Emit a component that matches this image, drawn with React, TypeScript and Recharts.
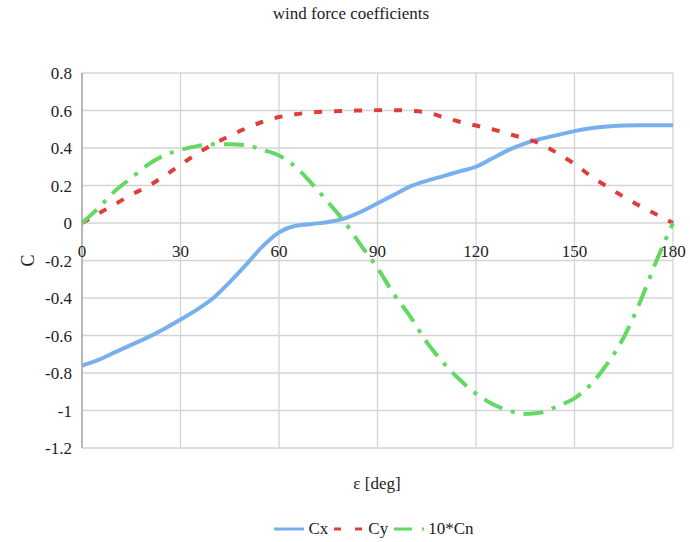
import { LineChart, Line, XAxis, YAxis, CartesianGrid } from 'recharts';

const angles = [
  0, 5, 10, 15, 20, 25, 30, 35, 40, 45, 50, 55, 60, 65, 70, 75, 80, 85, 90,
  95, 100, 105, 110, 115, 120, 125, 130, 135, 140, 145, 150, 155, 160, 165, 170, 175, 180,
];

const cx = [
  -0.76, -0.73, -0.69, -0.65, -0.61, -0.565, -0.515, -0.462, -0.4, -0.315, -0.222, -0.125, -0.05,
  -0.015, -0.005, 0.005, 0.025, 0.06, 0.105, 0.15, 0.195, 0.225, 0.25, 0.275, 0.3, 0.345, 0.39,
  0.425, 0.45, 0.47, 0.49, 0.505, 0.515, 0.52, 0.522, 0.522, 0.522,
];

const cy = [
  0, 0.05, 0.1, 0.15, 0.195, 0.25, 0.31, 0.37, 0.42, 0.465, 0.505, 0.54, 0.565, 0.58, 0.59,
  0.595, 0.598, 0.6, 0.602, 0.602, 0.598, 0.59, 0.565, 0.54, 0.52, 0.5, 0.475, 0.45, 0.42,
  0.37, 0.315, 0.25, 0.193, 0.14, 0.09, 0.045, 0,
];

const cn10 = [
  0, 0.08, 0.17, 0.24, 0.31, 0.36, 0.39, 0.41, 0.42, 0.42, 0.415, 0.39, 0.36, 0.3, 0.21, 0.11,
  0.005, -0.12, -0.24, -0.38, -0.5, -0.635, -0.745, -0.835, -0.91, -0.965, -1.0, -1.018, -1.01,
  -0.975, -0.935, -0.86, -0.75, -0.61, -0.42, -0.2, 0,
];

const xTicks = [0, 30, 60, 90, 120, 150, 180];
const yTicks = [-1.2, -1, -0.8, -0.6, -0.4, -0.2, 0, 0.2, 0.4, 0.6, 0.8];

const data = angles.map((a, i) => ({ eps: a, cx: cx[i], cy: cy[i], cn: cn10[i] }));

const W = 690;
const H = 542;
const TOP = 73;
const Y_AXIS_W = 82;
const X_AXIS_H = 30;
const BOTTOM = 64;
const PLOT_H = H - TOP - BOTTOM - X_AXIS_H;
const Y_MIN = -1.2;
const Y_MAX = 0.8;
const ZERO_Y = TOP + (PLOT_H * Y_MAX) / (Y_MAX - Y_MIN);
const MID_Y = TOP + PLOT_H / 2;

const FONT = '"Liberation Serif", "Times New Roman", serif';
const BLUE = '#78b0ee';
const RED = '#e03c3c';
const GREEN = '#62d962';

function XTick(props: any) {
  const { x, payload } = props;
  return (
    <text x={x} y={ZERO_Y + 34} textAnchor="middle" fontSize={17} fill="#222">
      {payload.value}
    </text>
  );
}

function LegendItem({ color, dash, label }: { color: string; dash?: string; label: string }) {
  return (
    <span style={{ display: 'inline-flex', alignItems: 'center', marginRight: 6 }}>
      <svg width={30} height={6} style={{ marginRight: 4 }}>
        <line x1={0} y1={3} x2={30} y2={3} stroke={color} strokeWidth={3} strokeDasharray={dash} />
      </svg>
      {label}
    </span>
  );
}

export default function App() {
  return (
    <div style={{ position: 'absolute', left: 0, top: 0, width: W, height: H, background: '#fff', fontFamily: FONT, color: '#222' }}>
      <div style={{ position: 'absolute', top: 4, left: 0, width: 702, textAlign: 'center', fontSize: 17 }}>
        wind force coefficients
      </div>
      <LineChart
        width={W}
        height={H}
        data={data}
        margin={{ top: TOP, right: 17, bottom: BOTTOM, left: 0 }}
        style={{ fontFamily: FONT }}
      >
        <CartesianGrid stroke="#d4d4d4" strokeWidth={1.3} />
        <XAxis
          dataKey="eps"
          type="number"
          domain={[0, 180]}
          ticks={xTicks}
          height={X_AXIS_H}
          axisLine={false}
          tickLine={false}
          tick={<XTick />}
          interval={0}
        />
        <YAxis
          type="number"
          domain={[Y_MIN, Y_MAX]}
          ticks={yTicks}
          width={Y_AXIS_W}
          axisLine={{ stroke: '#aaaaaa', strokeWidth: 1.5 }}
          tickLine={false}
          tickMargin={4}
          interval={0}
          tickFormatter={(v: number) => String(Math.round(v * 10) / 10)}
          tick={{ fontSize: 17, fill: '#222' }}
          label={{
            content: () => (
              <text x={28} y={MID_Y} transform={`rotate(-90 28 ${MID_Y})`} textAnchor="middle" dominantBaseline="central" fontSize={18} fill="#222">
                C
              </text>
            ),
          }}
        />
        <Line type="monotone" dataKey="cx" stroke={BLUE} strokeWidth={4} dot={false} isAnimationActive={false} />
        <Line type="monotone" dataKey="cy" stroke={RED} strokeWidth={4} strokeDasharray="8 12" dot={false} isAnimationActive={false} />
        <Line type="monotone" dataKey="cn" stroke={GREEN} strokeWidth={4} strokeDasharray="20 9 4 9" dot={false} isAnimationActive={false} />
      </LineChart>
      <div style={{ position: 'absolute', top: 474, left: 0, width: 754, textAlign: 'center', fontSize: 17 }}>
        ε [deg]
      </div>
      <div style={{ position: 'absolute', top: 519, left: 0, width: 754, display: 'flex', justifyContent: 'center', fontSize: 17 }}>
        <LegendItem color={BLUE} label="Cx" />
        <LegendItem color={RED} dash="7 14" label="Cy" />
        <LegendItem color={GREEN} dash="18 10 2 10" label="10*Cn" />
      </div>
    </div>
  );
}
